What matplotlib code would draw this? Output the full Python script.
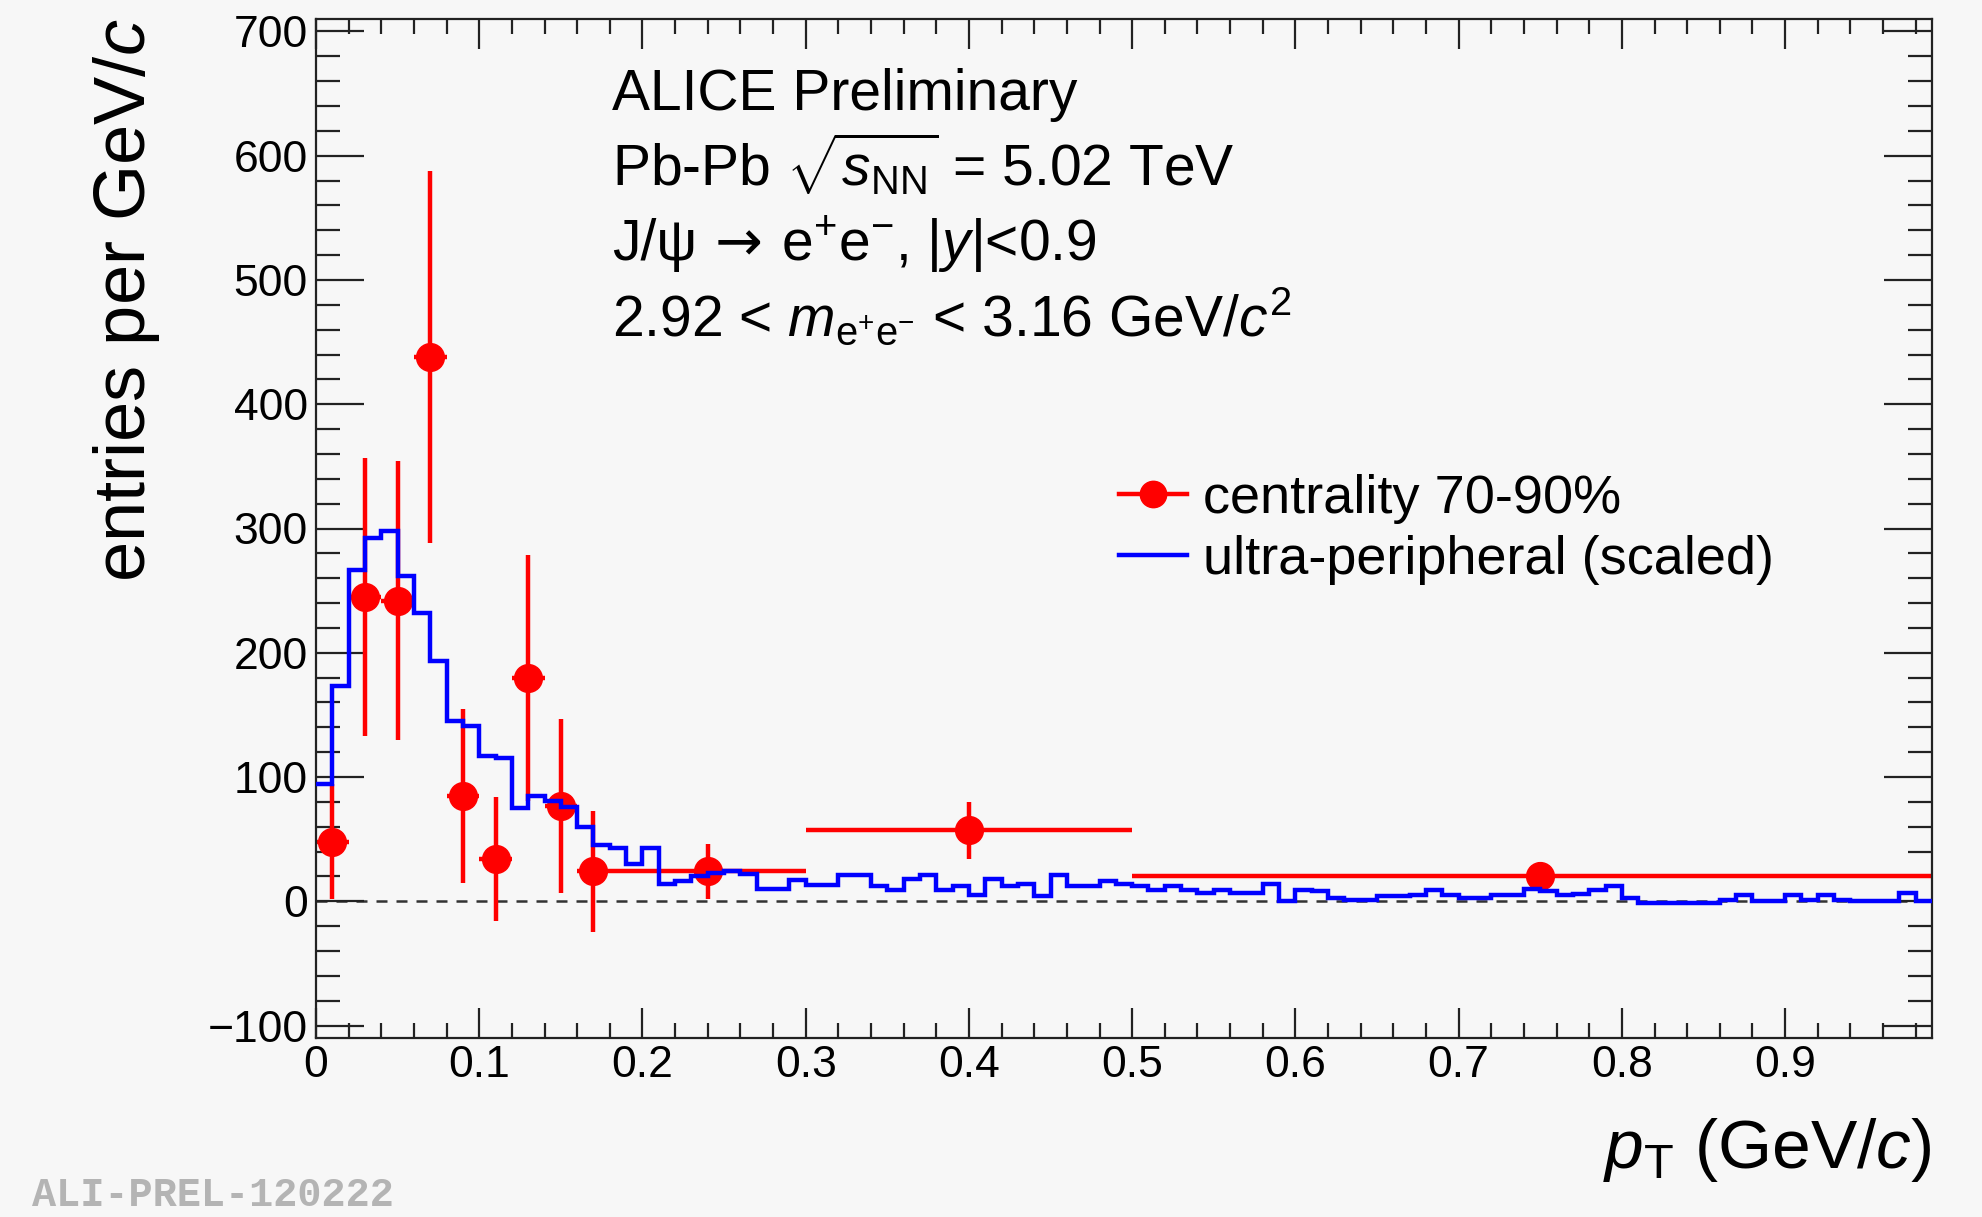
import numpy as np
import matplotlib
matplotlib.use("Agg")
from matplotlib import pyplot as plt
from matplotlib.lines import Line2D

### data ###

# centrality 70-90% (red points)
pt_centres = [0.01, 0.03, 0.05, 0.07, 0.09, 0.11, 0.13, 0.15, 0.17, 0.24, 0.40, 0.75]
pt_halfwidths = [0.01, 0.01, 0.01, 0.01, 0.01, 0.01, 0.01, 0.01, 0.01, 0.06, 0.10, 0.25]
entries = [48, 245, 242, 438, 85, 34, 180, 77, 24, 24, 57, 20]
entries_err = [46, 112, 112, 150, 70, 50, 99, 70, 49, 22, 23, 12]

# ultra-peripheral (scaled), bins of 0.01 from 0 to 0.99
upc_counts = [94, 173, 267, 292, 298, 262, 232, 193, 145, 141,
              117, 115, 75, 85, 81, 76, 60, 45, 43, 30,
              43, 14, 16, 20, 23, 24, 22, 10, 10, 17,
              13, 13, 21, 21, 12, 9, 18, 21, 9, 12,
              5, 18, 12, 14, 4, 21, 12, 12, 16, 14,
              12, 9, 12, 9, 7, 9, 7, 7, 14, 0,
              9, 8, 3, 1, 1, 4, 4, 5, 9, 5,
              3, 3, 5, 5, 10, 8, 5, 6, 9, 12,
              3, -1, -1, -1, -1, -1, 1, 5, 0, 0,
              5, 1, 5, 1, 0, 0, 0, 7, 0]
upc_bin_width = 0.01

x_ticks = [0, 0.1, 0.2, 0.3, 0.4, 0.5, 0.6, 0.7, 0.8, 0.9]
x_tick_labels = ["0", "0.1", "0.2", "0.3", "0.4", "0.5", "0.6", "0.7", "0.8", "0.9"]
y_ticks = [-100, 0, 100, 200, 300, 400, 500, 600, 700]

# each info line is a list of (text, font family) pieces
info_lines = [[("ALICE Preliminary", 'Liberation Sans')],
              [(r"Pb-Pb $\sqrt{s_{\rm NN}}$ = 5.02 TeV", 'Liberation Sans')],
              [("J/ψ", 'Liberation Sans'), (" → ", 'DejaVu Sans'),
               (r"e$^{+}$e$^{-}$, |$y$|<0.9", 'Liberation Sans')],
              [(r"2.92 < $m_{\rm e^{+}e^{-}}$ < 3.16 GeV/$c^{2}$", 'Liberation Sans')]]

### style ###

plt.rcParams['font.family'] = ['Liberation Sans', 'DejaVu Sans']
plt.rcParams['mathtext.fontset'] = 'custom'
plt.rcParams['mathtext.rm'] = 'Liberation Sans'
plt.rcParams['mathtext.it'] = 'Liberation Sans:italic'
plt.rcParams['mathtext.bf'] = 'Liberation Sans:bold'

bg = '#f7f7f7'
red = '#ff0000'
blue = '#0000ff'

W, H = 1982, 1217
fig = plt.figure(figsize=(W / 100, H / 100), dpi=100, facecolor=bg)
ax = fig.add_axes([316 / W, 1 - 1038 / H, (1932 - 316) / W, (1038 - 19) / H])
ax.set_facecolor(bg)

### plot ###

ax.axhline(0, color='#333333', lw=1.8, ls=(0, (4.4, 3.6)), zorder=1)

ax.errorbar(pt_centres, entries, xerr=pt_halfwidths, yerr=entries_err,
            fmt='o', color=red, ms=20, elinewidth=3.2, capsize=0, zorder=2)

edges = np.arange(len(upc_counts) + 1) * upc_bin_width
ax.stairs(upc_counts, edges, color=blue, lw=3.2, baseline=None, zorder=3)

ax.set_xlim(0, 0.99)
ax.set_ylim(-110, 710)

ax.set_xticks(x_ticks)
ax.set_xticklabels(x_tick_labels)
ax.set_yticks(y_ticks)
ax.set_xticks(np.arange(0, 0.99, 0.02), minor=True)
ax.set_yticks(np.arange(-100, 701, 20), minor=True)

ax.tick_params(axis='both', which='both', direction='in', top=True, right=True,
               labelsize=32, width=1.6, color='#222222')
ax.tick_params(axis='y', which='major', length=34.5, pad=6)
ax.tick_params(axis='y', which='minor', length=17)
ax.tick_params(axis='x', which='major', length=21.6, pad=5)
ax.tick_params(axis='x', which='minor', length=10.8)
for sp in ax.spines.values():
    sp.set_linewidth(1.6)
    sp.set_color('#222222')

### texts ###

renderer = fig.canvas.get_renderer()
baselines = [110, 186, 260, 336]
for pieces, b in zip(info_lines, baselines):
    x = 612
    for txt, fam in pieces:
        t = fig.text(x / W, 1 - b / H, txt, fontsize=41, va='baseline', ha='left',
                     family=fam)
        x = t.get_window_extent(renderer).x1

fig.text(1931 / W, 1 - 1168 / H, r"$p_{\rm T}$ (GeV/$c$)", fontsize=50,
         ha='right', va='baseline')
fig.text(127 / W, 1 - 19 / H, r"entries per GeV/$c$", fontsize=52,
         rotation=90, ha='center', va='top')

fig.text(32 / W, 3 / H, "ALI-PREL-120222", fontsize=29,
         family='Liberation Mono', weight='bold', color='#b4b4b4', va='bottom')

handles = [Line2D([], [], color=red, marker='o', ms=19, lw=3.2),
           Line2D([], [], color=blue, lw=3.2)]
labels = ["centrality 70-90%", "ultra-peripheral (scaled)"]
fig.legend(handles, labels, loc='upper left', bbox_to_anchor=(1119 / W, 1 - 474 / H),
           frameon=False, fontsize=39, handlelength=1.25, handletextpad=0.3,
           labelspacing=0.2, borderpad=0, borderaxespad=0)

fig.savefig("out.png", dpi=100, facecolor=bg)
